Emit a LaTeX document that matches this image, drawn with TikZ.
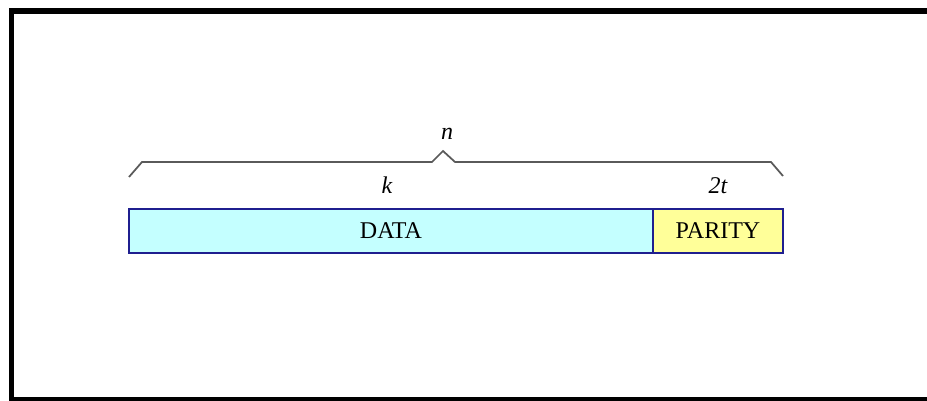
\documentclass[tikz,border=0pt]{standalone}
\usepackage{fontspec}
\setmainfont{Liberation Serif}
\usepackage{tikz}
\definecolor{fieldline}{HTML}{1F1F8F}
\definecolor{datafill}{HTML}{C4FFFF}
\definecolor{parityfill}{HTML}{FFFF99}
\definecolor{bracegray}{HTML}{5A5A5A}

\begin{document}
\begin{tikzpicture}
  [x=0.03cm,y=-0.03cm,every node/.style={font=\fontsize{20.5}{24}\selectfont}]
 \tikzset{FieldStyle/.style={draw=fieldline,line width=1.5pt,inner sep=0pt,minimum height=1.32cm}}
 \tikzset{BraceStyle/.style={draw=bracegray,line width=1.5pt}}

  \clip (0,0) rectangle (927,401);
  \draw[line width=0.16cm] (11.5,11) rectangle (945,400);

  \node[FieldStyle,fill=datafill,minimum width=15.72cm] (data) at (391,231) {DATA};
  \node[FieldStyle,fill=parityfill,minimum width=3.9cm] (parity) at (718,231) {PARITY};

  \coordinate (b1) at (129,177);
  \coordinate (b2) at (142,162);
  \coordinate (b3) at (432,162);
  \coordinate (b4) at (443,151);
  \coordinate (b5) at (455,162);
  \coordinate (b6) at (771,162);
  \coordinate (b7) at (783,176);
  \draw[BraceStyle] (b1) -- (b2) -- (b3) -- (b4) -- (b5) -- (b6) -- (b7);

  \node (n) at (447,134) {\itshape n};
  \node (k) at (387,185) {\itshape k};
  \node (t2) at (718,186) {\itshape 2t};

\end{tikzpicture}
\end{document}
